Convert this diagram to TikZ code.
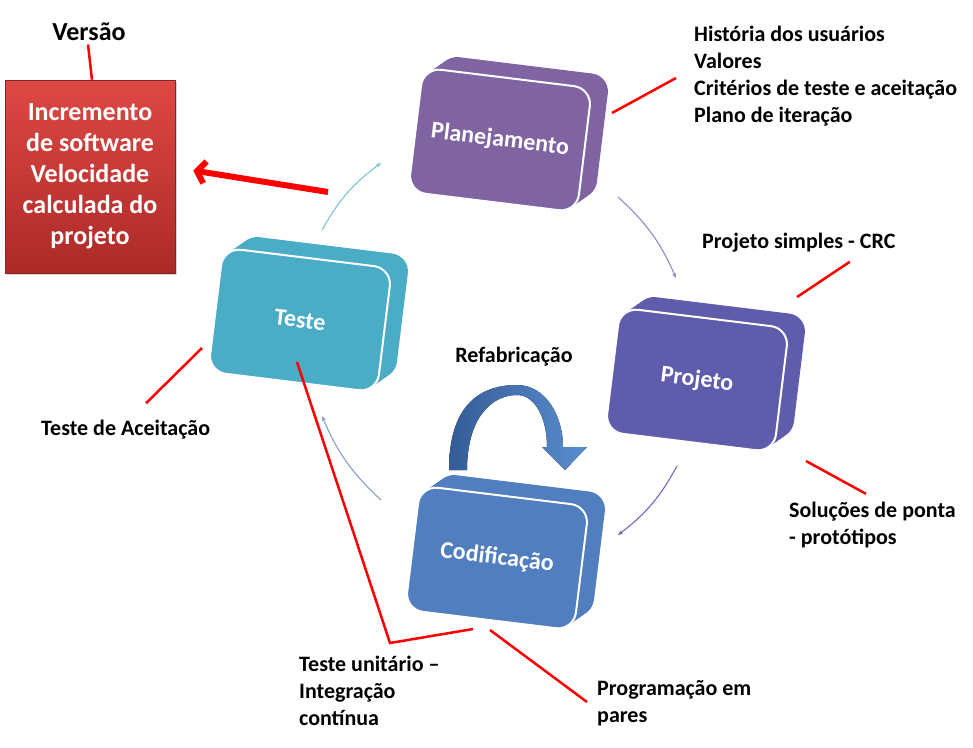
\documentclass[tikz,border=0pt]{standalone}
\usepackage{fontspec}
\setmainfont{Carlito}
\usetikzlibrary{arrows.meta,shadows}

\definecolor{planc}{RGB}{128,100,162}
\definecolor{projc}{RGB}{96,92,172}
\definecolor{codc}{RGB}{80,126,190}
\definecolor{testc}{RGB}{75,172,198}
\definecolor{redtop}{RGB}{222,72,68}
\definecolor{redbot}{RGB}{172,42,40}
\definecolor{refl}{RGB}{52,92,150}
\definecolor{refr}{RGB}{90,142,208}

\begin{document}
\begin{tikzpicture}[x=1pt,y=1pt,
    face/.style={rectangle,rounded corners=18pt,minimum width=170pt,minimum height=125pt,
      rotate=-7,inner sep=0pt},
    boxtext/.style={text=white,font=\fontsize{24}{28}\selectfont\bfseries},
    lbl/.style={font=\fontsize{22}{27}\selectfont\bfseries,align=left,inner sep=0pt,anchor=west},
    callout/.style={red,line width=2.5pt},
    cyc/.style={line width=1.1pt,-{Stealth[length=5pt,width=4pt]}}]
  \useasboundingbox (0,0) rectangle (973,-747);

  % the four boxes of the cycle
  \foreach \n/\x/\y/\c/\t in {plan/500/140/planc/Planejamento, proj/697/380/projc/Projeto,
      cod/497/558/codc/Codificação, test/300/320/testc/Teste}{
    \foreach \d in {1,...,18}
      \node[face,fill=\c] at (\x+\d,-\y+0.7*\d) {};
    \node[face,fill=\c,draw=white,line width=2pt,boxtext] (\n) at (\x,-\y) {\t};
  }

  % version box
  \node[font=\fontsize{26}{31}\selectfont\bfseries] (versao) at (89,-32) {Versão};
  \node[rectangle,minimum width=170pt,minimum height=193pt,top color=redtop,bottom color=redbot,
    draw=redbot!80!black,line width=0.6pt,text=white,align=center,
    font=\fontsize{26}{31}\selectfont\bfseries,
    drop shadow={opacity=0.35,shadow xshift=2pt,shadow yshift=-2pt}] (incr) at (90,-176.5)
    {Incremento\\de software\\Velocidade\\calculada do\\projeto};
  \draw[callout] ([xshift=-1pt]versao.south) -- ([xshift=2pt]incr.north);
  \coordinate (vs) at (328,-192);
  \draw[red,line width=6pt,-{Straight Barb[length=8pt,width=22pt]}] (vs) -- ([shift={(18,6)}]incr.east);

  % labels
  \node[lbl] (hist) at (694,-76) {História dos usuários\\Valores\\Critérios de teste e aceitação\\Plano de iteração};
  \node[lbl] (crc) at (702,-243) {Projeto simples - CRC};
  \node[lbl] (sol) at (789,-525) {Soluções de ponta\\- protótipos};
  \node[lbl] (acc) at (41,-430) {Teste de Aceitação};
  \node[lbl] (tu) at (299,-691) {Teste unitário --\\Integração\\contínua};
  \node[lbl] (prog) at (597,-703) {Programação em\\pares};
  \node[font=\fontsize{22}{27}\selectfont\bfseries] (refab) at (514,-357) {Refabricação};

  % callout lines
  \coordinate (pl) at (612,-113);
  \coordinate (pj1) at (797,-297);
  \coordinate (pj2) at (806,-461);
  \coordinate (te) at (202,-348);
  \coordinate (te2) at (297,-362);
  \coordinate (tc) at (390,-643);
  \coordinate (co1) at (473,-629);
  \coordinate (co2) at (490,-630);
  \draw[callout] (pl) -- ([xshift=-18pt,yshift=-2pt]hist.west);
  \draw[callout] (pj1) -- ([shift={(51,-9)}]crc.south);
  \draw[callout] (pj2) -- ([shift={(77,8)}]sol.north west);
  \draw[callout] (te) -- ([shift={(105,17)}]acc.north west);
  \draw[callout] (te2) -- (tc) -- (co1);
  \draw[callout] (co2) -- ([shift={(-10,1)}]prog.west);

  % cycle arrows
  \coordinate (c1s) at (322,-230); \coordinate (c1e) at (381,-163);
  \coordinate (c2s) at (618,-197); \coordinate (c2e) at (676,-278);
  \coordinate (c3s) at (677,-466); \coordinate (c3e) at (618,-535);
  \coordinate (c4s) at (381,-500); \coordinate (c4e) at (322,-416);
  \draw[cyc,color={rgb,255:red,125;green,195;blue,215}] (c1s) to[bend left=12] (c1e);
  \draw[cyc,color={rgb,255:red,155;green,135;blue,190}] (c2s) to[bend left=12] (c2e);
  \draw[cyc,color={rgb,255:red,110;green,104;blue,188}] (c3s) to[bend left=12] (c3e);
  \draw[cyc,color={rgb,255:red,135;green,158;blue,208}] (c4s) to[bend left=12] (c4e);

  % refactoring arrow
  \fill[left color=refl,right color=refr] (449,-470) .. controls (449,-400) and (485,-385) .. (517,-385)
    .. controls (545,-385) and (563,-415) .. (563,-447) -- (587,-447) -- (565,-470) -- (542,-447)
    -- (547,-447) .. controls (547,-418) and (535,-395) .. (517,-395)
    .. controls (490,-395) and (467,-420) .. (467,-470) -- cycle;
\end{tikzpicture}
\end{document}
